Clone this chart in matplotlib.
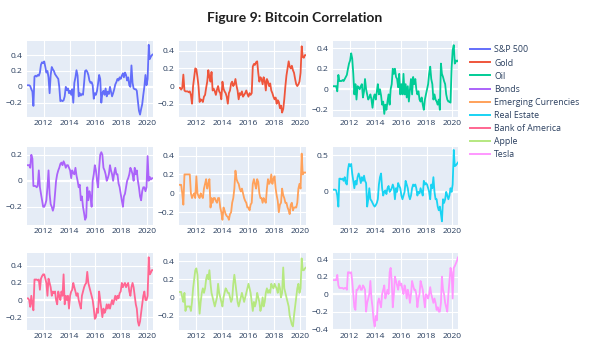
import matplotlib
matplotlib.use("Agg")
import matplotlib.pyplot as plt
import matplotlib.dates as mdates
from matplotlib.ticker import FixedLocator, FuncFormatter
import pandas as pd

# monthly rolling correlation with bitcoin, Sep 2010 - Jun 2020
dates = pd.date_range('2010-09-01', '2020-06-01', freq='MS') + pd.Timedelta(days=14)

names = ['S&P 500', 'Gold', 'Oil', 'Bonds', 'Emerging Currencies',
         'Real Estate', 'Bank of America', 'Apple', 'Tesla']
colors = ['#636EFA', '#EF553B', '#00CC96', '#AB63FA', '#FFA15A',
          '#19D3F3', '#FF6692', '#B6E880', '#FF97FF']

sp500 = [0.02, 0.02, 0.02, 0.01,
         -0.03, -0.06, -0.24, 0.13, 0.14, 0.13, 0.15, 0.14, 0.18, 0.28, 0.31, 0.30,
         0.32, 0.25, 0.18, 0.20, 0.12, -0.08, 0.15, 0.25, 0.22, 0.20, 0.16, 0.14,
         0.12, 0.10, 0.0, -0.18, -0.17, -0.18, -0.17, -0.12, 0.0, -0.04, -0.02, -0.08,
         -0.05, -0.10, -0.03, -0.20, 0.05, 0.12, 0.21, 0.14, -0.12, -0.08, -0.11, -0.09,
         -0.10, 0.05, 0.20, 0.21, 0.19, 0.15, 0.08, 0.05, 0.06, 0.02, -0.15, -0.08,
         -0.10, -0.05, 0.04, 0.15, 0.10, -0.20, -0.08, -0.05, -0.10, -0.02, -0.12, -0.06,
         -0.09, 0.0, -0.06, -0.12, -0.08, -0.03, 0.03, 0.06, 0.10, 0.08, 0.12, 0.10,
         0.14, 0.17, 0.12, 0.18, 0.15, 0.08, 0.12, 0.02, 0.0, 0.27, 0.05, -0.02,
         -0.03, -0.03, -0.05, -0.18, -0.30, -0.35, -0.28, -0.22, -0.10, 0.0, 0.15, 0.02,
         0.10, 0.53, 0.35, 0.38, 0.40, 0.41]

gold = [-0.02, -0.02, -0.04, -0.02,
        0.13, -0.05, -0.06, -0.06, -0.06, -0.07, -0.06, -0.10, -0.20, 0.0, 0.10, 0.20,
        0.19, 0.10, 0.0, -0.18, -0.15, -0.16, -0.18, -0.12, -0.10, -0.02, 0.05, 0.18,
        0.10, 0.05, 0.16, -0.05, -0.03, -0.06, -0.10, -0.04, 0.0, -0.06, -0.08, -0.15,
        0.05, -0.03, -0.06, -0.08, -0.12, -0.20, -0.08, -0.05, 0.03, 0.05, 0.0, 0.02,
        0.08, 0.0, -0.05, -0.15, -0.08, -0.10, -0.06, -0.12, -0.10, -0.08, -0.05, -0.09,
        -0.12, -0.08, -0.10, -0.08, 0.22, 0.25, 0.24, 0.27, 0.28, 0.15, 0.05, 0.10,
        0.08, 0.02, 0.10, 0.06, -0.05, 0.08, 0.05, 0.0, 0.03, -0.05, -0.08, -0.12,
        -0.15, -0.13, -0.20, -0.16, -0.18, -0.25, -0.22, -0.30, -0.26, -0.15, 0.0, 0.12,
        0.20, 0.28, 0.22, 0.20, 0.23, 0.18, 0.15, 0.08, 0.02, 0.0, 0.02, 0.05,
        0.15, 0.45, 0.33, 0.32, 0.35, 0.35]

oil = [0.03, 0.03, 0.03, 0.03,
       -0.02, 0.14, 0.08, 0.08, 0.08, 0.09, 0.08, 0.10, 0.12, 0.14, 0.20, 0.25,
       0.28, 0.35, 0.30, 0.15, -0.05, 0.05, -0.10, 0.03, 0.02, 0.0, 0.03, 0.05,
       -0.08, -0.02, 0.10, 0.0, -0.05, -0.10, -0.08, -0.05, -0.10, -0.18, -0.08, -0.05,
       -0.10, -0.02, 0.05, -0.05, 0.0, -0.06, -0.15, -0.12, -0.24, -0.15, -0.20, -0.12,
       -0.05, -0.15, 0.0, 0.05, 0.20, 0.15, 0.20, 0.12, 0.10, 0.02, 0.15, -0.05,
       0.05, -0.05, 0.15, -0.05, 0.05, -0.08, 0.03, -0.12, 0.0, 0.10, -0.05, 0.12,
       0.05, 0.10, 0.0, -0.05, -0.02, -0.10, -0.12, -0.08, -0.15, -0.20, -0.10, -0.05,
       0.0, 0.05, 0.15, 0.22, 0.10, 0.05, -0.10, -0.05, -0.10, -0.12, -0.15, -0.10,
       -0.20, 0.25, 0.15, 0.12, 0.08, 0.05, -0.05, -0.10, -0.12, -0.12, -0.13, 0.20,
       0.38, 0.43, 0.25, 0.28, 0.27, 0.28]

bonds = [0.12, 0.12, 0.12, 0.10,
         0.20, 0.17, -0.04, -0.04, -0.04, -0.05, -0.04, 0.08, -0.05, -0.10, -0.15, -0.20,
         -0.20, -0.18, -0.15, -0.05, 0.08, -0.10, -0.18, -0.20, -0.23, -0.20, -0.10, 0.0,
         0.05, 0.08, 0.10, 0.13, 0.14, 0.12, 0.15, 0.13, 0.10, 0.12, 0.12, 0.10,
         0.08, 0.02, 0.08, 0.06, 0.05, 0.10, 0.04, 0.0, -0.05, -0.03, -0.15, -0.12,
         -0.20, -0.25, -0.30, -0.28, -0.05, -0.15, -0.08, -0.12, -0.20, 0.0, 0.05, 0.12,
         0.08, 0.0, -0.05, 0.10, 0.20, 0.22, 0.20, 0.10, 0.08, 0.05, 0.0, 0.02,
         0.05, 0.12, 0.08, 0.05, 0.0, 0.06, 0.10, 0.05, 0.05, -0.02, -0.05, -0.10,
         -0.15, -0.20, -0.12, -0.10, -0.05, 0.0, 0.02, 0.05, 0.10, 0.08, 0.05, 0.0,
         0.10, 0.05, 0.08, 0.0, -0.05, -0.12, -0.15, -0.08, -0.05, -0.05, -0.08, -0.05,
         0.19, 0.0, 0.03, 0.01, 0.02, 0.02]

em_currencies = [0.09, 0.09, 0.09, 0.0,
                 -0.12, 0.20, 0.20, 0.20, 0.20, 0.20, 0.20, 0.0, -0.05, -0.02, 0.0, -0.05,
                 0.18, 0.0, -0.03, -0.05, 0.0, -0.03, -0.05, 0.05, 0.10, 0.15, 0.05, 0.10,
                 0.15, -0.15, -0.05, -0.10, -0.05, -0.05, -0.08, -0.10, -0.05, -0.05, -0.15, -0.20,
                 -0.28, -0.15, -0.18, -0.22, -0.24, -0.25, -0.28, -0.22, -0.20, -0.10, -0.05, 0.05,
                 0.24, 0.15, 0.12, 0.10, 0.05, 0.02, 0.05, 0.0, -0.05, -0.08, -0.10, -0.15,
                 -0.15, -0.18, -0.12, -0.10, 0.10, 0.15, 0.10, 0.05, 0.15, 0.12, 0.0, -0.05,
                 -0.05, -0.10, -0.05, -0.08, -0.10, 0.05, 0.15, 0.10, 0.12, 0.20, 0.10, 0.15,
                 0.18, 0.05, -0.02, -0.08, -0.20, -0.12, -0.10, 0.05, -0.02, -0.05, -0.10, -0.10,
                 -0.15, -0.18, -0.22, -0.12, -0.10, -0.18, -0.15, -0.15, -0.15, -0.10, 0.05, 0.10,
                 0.05, 0.42, 0.20, 0.22, 0.22, 0.22]

real_estate = [0.03, 0.03, 0.03, 0.02,
               -0.05, -0.20, 0.18, 0.18, 0.17, 0.18, 0.15, 0.20, 0.12, 0.10, 0.30, 0.38,
               0.35, 0.38, 0.25, 0.15, 0.05, 0.15, 0.10, 0.20, 0.25, 0.20, 0.12, 0.20,
               0.15, 0.22, 0.15, 0.12, -0.20, -0.10, 0.05, -0.10, -0.12, -0.15, -0.18, -0.20,
               -0.18, -0.15, -0.10, 0.10, 0.20, 0.25, 0.05, -0.05, 0.0, 0.02, -0.03, 0.05,
               0.08, 0.0, 0.02, 0.05, 0.10, 0.05, -0.10, 0.05, 0.0, 0.12, 0.08, 0.05,
               -0.05, -0.10, -0.05, 0.0, 0.15, 0.10, 0.05, -0.05, -0.10, -0.05, 0.05, 0.10,
               0.08, 0.10, 0.05, -0.05, 0.0, -0.02, 0.05, 0.0, -0.05, 0.15, 0.10, 0.12,
               0.10, 0.05, 0.0, -0.10, 0.10, 0.05, 0.20, 0.0, -0.10, -0.10, -0.20, -0.25,
               -0.20, -0.30, -0.40, -0.10, -0.15, -0.10, 0.0, -0.05, -0.10, -0.05, 0.05, 0.0,
               0.10, 0.57, 0.35, 0.36, 0.38, 0.40]

bank_of_america = [0.02, 0.02, 0.0, -0.08,
                   0.05, -0.05, -0.12, 0.24, 0.24, 0.24, 0.23, 0.24, 0.12, 0.25, 0.28, 0.30,
                   0.30, 0.25, 0.20, 0.05, 0.25, 0.20, 0.15, 0.05, 0.10, 0.08, 0.10, 0.0,
                   -0.05, 0.10, 0.05, 0.0, 0.10, 0.05, 0.30, -0.05, 0.05, 0.0, 0.05, -0.10,
                   0.05, 0.10, 0.12, 0.20, 0.15, 0.10, 0.05, 0.08, 0.0, -0.05, -0.10, 0.05,
                   0.10, 0.15, 0.18, 0.20, 0.33, 0.20, 0.15, 0.10, 0.05, 0.0, -0.10, -0.22,
                   -0.20, -0.10, -0.15, 0.10, 0.0, -0.10, -0.20, -0.10, -0.15, -0.12, -0.05, -0.10,
                   -0.05, -0.10, -0.05, 0.0, -0.05, 0.0, 0.05, 0.0, 0.05, 0.02, 0.08, 0.10,
                   0.20, 0.15, 0.18, 0.20, 0.15, 0.18, 0.20, 0.10, 0.05, 0.15, 0.20, 0.15,
                   0.05, -0.05, -0.10, -0.25, -0.30, -0.25, -0.15, -0.05, 0.05, 0.10, 0.0, 0.0,
                   0.05, 0.50, 0.30, 0.32, 0.35, 0.35]

apple = [0.06, 0.06, 0.06, 0.0,
         -0.05, 0.05, -0.15, -0.10, -0.10, -0.10, -0.10, -0.15, -0.05, 0.10, 0.20, 0.30,
         0.32, 0.25, 0.0, -0.18, -0.05, 0.05, 0.10, 0.05, 0.10, 0.20, 0.25, 0.20,
         0.30, 0.15, 0.05, 0.0, -0.05, -0.10, -0.05, 0.0, 0.15, 0.05, 0.0, -0.05,
         -0.10, 0.0, 0.05, 0.10, 0.08, 0.05, 0.05, 0.0, -0.05, -0.02, 0.15, 0.25,
         0.15, 0.05, -0.05, -0.10, -0.05, 0.0, 0.05, 0.0, -0.05, 0.0, 0.05, 0.10,
         0.15, 0.10, 0.05, -0.05, -0.15, -0.05, -0.10, -0.05, 0.05, 0.0, -0.05, -0.15,
         -0.10, 0.0, -0.10, -0.05, 0.05, 0.10, 0.05, 0.08, 0.05, 0.15, 0.12, 0.10,
         0.15, 0.12, 0.10, 0.05, 0.15, 0.10, 0.0, 0.05, 0.33, 0.10, 0.05, 0.0,
         -0.05, -0.10, -0.20, -0.25, -0.30, -0.32, -0.20, -0.10, 0.0, 0.10, 0.15, 0.05,
         0.10, 0.43, 0.30, 0.30, 0.32, 0.33]

tesla = [0.16, 0.16, 0.16, 0.16,
         0.22, 0.10, 0.07, 0.07, 0.07, 0.07, 0.06, 0.07, 0.07, 0.05, 0.25, 0.25,
         0.24, 0.25, 0.15, 0.0, -0.15, -0.18, 0.05, 0.05, 0.08, 0.10, 0.05, 0.05,
         0.10, 0.08, 0.05, -0.20, -0.10, -0.05, 0.0, 0.15, -0.05, -0.15, -0.30, -0.37,
         -0.25, -0.30, -0.10, -0.05, -0.10, -0.15, 0.0, 0.05, 0.10, -0.05, 0.0, 0.05,
         0.0, 0.25, 0.30, 0.15, -0.15, 0.0, 0.20, 0.15, 0.10, 0.05, 0.15, 0.10,
         0.12, 0.05, 0.0, 0.10, 0.05, -0.05, 0.05, 0.0, -0.10, 0.0, 0.15, 0.10,
         0.05, 0.05, 0.0, -0.15, -0.05, 0.0, 0.15, 0.10, 0.05, -0.05, -0.15, 0.0,
         -0.02, -0.05, 0.0, 0.08, 0.0, -0.05, -0.10, -0.05, -0.10, -0.18, -0.15, -0.20,
         -0.20, -0.10, 0.20, 0.05, 0.0, -0.10, -0.15, -0.20, 0.0, 0.15, 0.30, 0.25,
         -0.05, 0.30, 0.32, 0.35, 0.38, 0.42]

series = [sp500, gold, oil, bonds, em_currencies, real_estate,
          bank_of_america, apple, tesla]

y_ticks = [[-0.2, 0, 0.2, 0.4], [-0.2, 0, 0.2, 0.4], [-0.2, 0, 0.2, 0.4],
           [-0.2, 0, 0.2], [-0.2, 0, 0.2, 0.4], [0, 0.5],
           [-0.2, 0, 0.2, 0.4], [-0.2, 0, 0.2, 0.4], [-0.4, -0.2, 0, 0.2, 0.4]]
y_ranges = [(-0.38, 0.578), (-0.35, 0.51), (-0.27, 0.47),
            (-0.34, 0.26), (-0.335, 0.49), (-0.45, 0.61),
            (-0.35, 0.55), (-0.36, 0.49), (-0.41, 0.47)]

font_color = '#2a3f5f'


def plotly_num(v, pos=None):
    if abs(v) < 1e-9:
        return '0'
    s = f'{abs(v):g}'
    return ('\u2212' + s) if v < 0 else s


fig = plt.figure(figsize=(5.89, 3.47), dpi=100)

col_left = [27, 179, 333]
col_width = [126, 127, 125]
row_top = [41, 147, 253]
row_height = [76, 78, 77]
W, H = 589.0, 347.0

lines = []
for i, (vals, name, col) in enumerate(zip(series, names, colors)):
    r, c = divmod(i, 3)
    ax = fig.add_axes([col_left[c] / W, 1 - (row_top[r] + row_height[r]) / H,
                       col_width[c] / W, row_height[r] / H])
    ax.set_facecolor('#E5ECF6')
    for s in ax.spines.values():
        s.set_visible(False)
    ax.axhline(0, color='white', lw=1.6, zorder=1)
    ln, = ax.plot(dates, vals, color=col, lw=1.3, zorder=3, label=name)
    lines.append(ln)
    ax.set_xlim(dates[0], dates[-1])
    ax.set_ylim(*y_ranges[i])
    ax.yaxis.set_major_locator(FixedLocator(y_ticks[i]))
    ax.yaxis.set_major_formatter(FuncFormatter(plotly_num))
    ax.xaxis.set_major_locator(mdates.YearLocator(2))
    ax.xaxis.set_major_formatter(mdates.DateFormatter('%Y'))
    ax.grid(True, color='white', lw=0.8, zorder=0)
    ax.set_axisbelow(True)
    ax.tick_params(length=0, labelsize=6.1, labelcolor=font_color)
    ax.tick_params(axis='y', pad=3.2)
    ax.tick_params(axis='x', pad=2.3)
    for lab in ax.get_xticklabels() + ax.get_yticklabels():
        lab.set_family('Open Sans')

fig.text(0.5, 0.948, 'Figure 9: Bitcoin Correlation', ha='center', va='center',
         fontsize=10, fontweight='bold', family='Lato', color='#1e1e1e')

leg = fig.legend(lines, names, loc='upper left', bbox_to_anchor=(470 / W, 1 - 45.5 / H),
                 frameon=False, borderpad=0, borderaxespad=0, handlelength=2.3,
                 handletextpad=0.45, labelspacing=0.46,
                 prop={'family': 'Open Sans', 'size': 6.3})
for t in leg.get_texts():
    t.set_color(font_color)
for h in leg.get_lines():
    h.set_linewidth(1.4)

fig.savefig('out.png', dpi=100)
